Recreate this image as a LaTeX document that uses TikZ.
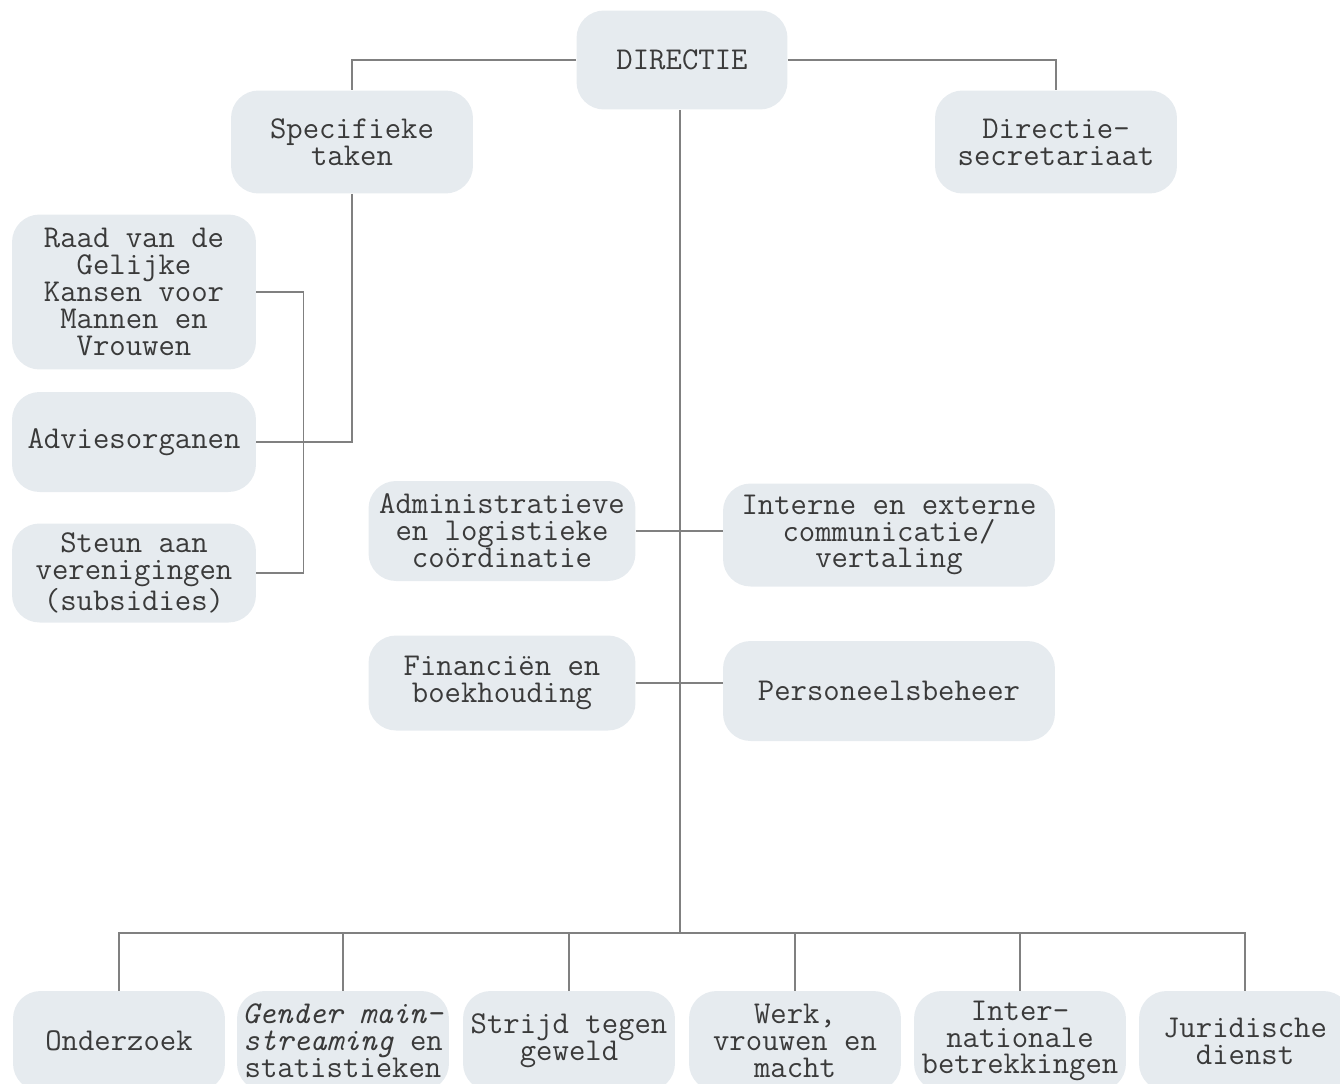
\documentclass[tikz,border=0pt]{standalone}
\usepackage{fontspec}
\usepackage{xcolor}
\usepackage{tikz}
\usetikzlibrary{positioning}

\definecolor{boxfill}{HTML}{E6EBEF}
\definecolor{linegray}{HTML}{808080}
\definecolor{textgray}{HTML}{3A3A3A}

\begin{document}
\begin{tikzpicture}[
    x=0.02cm, y=-0.02cm,
    unit/.style={rectangle, fill=boxfill, rounded corners=0.55cm, align=center,
        text=textgray, inner sep=2pt, font=\ttfamily\fontsize{18.1}{15.3}\selectfont},
    link/.style={draw=linegray, line width=0.6pt}
]
    \useasboundingbox (0,0) rectangle (1340,1083);
    \clip (0,0) rectangle (1340,1083);

    \node[unit, minimum width=4.22cm, minimum height=1.98cm] (dir) at (682,60) {DIRECTIE};
    \node[unit, minimum width=4.84cm, minimum height=2.06cm] (spec) at (352,142) {Specifieke\\taken};
    \node[unit, minimum width=4.84cm, minimum height=2.06cm] (secr) at (1056,142) {Directie-\\secretariaat};

    \node[unit, minimum width=4.88cm, minimum height=3.1cm] (raad) at (134,292) {Raad van de\\Gelijke\\Kansen voor\\Mannen en\\Vrouwen};
    \node[unit, minimum width=4.88cm, minimum height=2.0cm] (advies) at (134,442) {Adviesorganen};
    \node[unit, minimum width=4.88cm, minimum height=1.98cm] (steun) at (134,573) {Steun aan\\verenigingen\\(subsidies)};

    \node[unit, minimum width=5.34cm, minimum height=2.0cm] (admin) at (502,531) {Administratieve\\en logistieke\\coördinatie};
    \node[unit, minimum width=6.64cm, minimum height=2.06cm] (intern) at (889,535) {Interne en externe\\communicatie/\\vertaling};
    \node[unit, minimum width=5.34cm, minimum height=1.9cm] (fin) at (502,683) {Financiën en\\boekhouding};
    \node[unit, minimum width=6.64cm, minimum height=2.0cm] (pers) at (889,691) {Personeelsbeheer};

    % diensten onderaan
    \node[unit, minimum width=4.24cm, minimum height=2.0cm] (onder) at (119,1041) {Onderzoek};
    \node[unit, minimum width=4.24cm, minimum height=2.0cm] (gender) at (343,1041) {\textit{Gender main-}\\\textit{streaming} en\\statistieken};
    \node[unit, minimum width=4.24cm, minimum height=2.0cm] (strijd) at (569,1041) {Strijd tegen\\geweld};
    \node[unit, minimum width=4.24cm, minimum height=2.0cm] (werk) at (795,1041) {Werk,\\vrouwen en\\macht};
    \node[unit, minimum width=4.24cm, minimum height=2.0cm] (inter) at (1020,1041) {Inter-\\nationale\\betrekkingen};
    \node[unit, minimum width=4.24cm, minimum height=2.0cm] (jur) at (1245,1041) {Juridische\\dienst};

    \coordinate (bus) at (680,933);

    \draw[link] (dir.west) -| (spec.north);
    \draw[link] (dir.east) -| (secr.north);
    \draw[link] (dir.south -| bus) -- (bus);
    \draw[link] (spec.south) |- (advies.east);
    \draw[link] (raad.east) -- ++(47,0) |- (steun.east);
    \draw[link] (admin.east) -- (admin.east -| intern.west);
    \draw[link] (fin.east) -- (fin.east -| pers.west);
    \foreach \n in {onder,gender,strijd,werk,inter,jur}
        \draw[link] (bus) -| (\n.north);

\end{tikzpicture}
\end{document}
